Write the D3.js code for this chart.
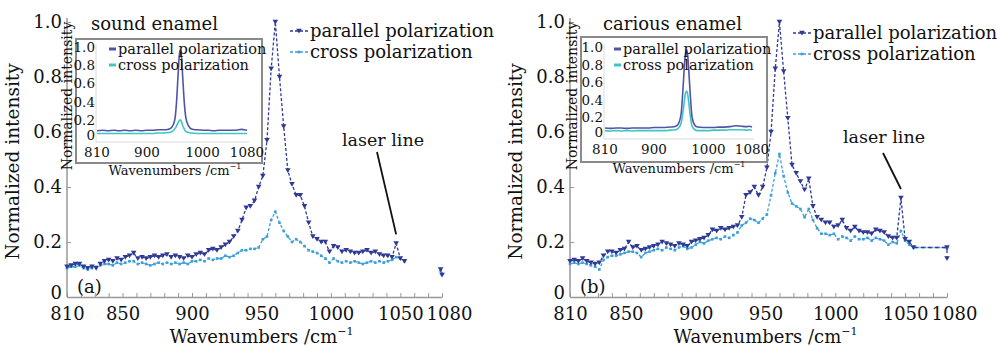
<!DOCTYPE html>
<html>
<head>
<meta charset="utf-8">
<script src="https://cdn.jsdelivr.net/npm/d3@7"></script>
<style>
  body { margin: 0; background: #fff; }
  svg { display: block; }
  text { font-family: "DejaVu Serif", "Liberation Serif", serif; fill: #111; }
</style>
</head>
<body>
<svg id="chart" width="998" height="346"></svg>
<script>
// main spectra, sampled every 3 cm-1
const wavenumbers = [810,813,816,819,822,825,828,831,834,837,840,843,846,849,852,855,858,861,864,867,
  870,873,876,879,882,885,888,891,894,897,900,903,906,909,912,915,918,921,924,927,930,933,936,939,942,945,
  948,951,954,957,960,963,966,969,972,975,978,981,984,987,990,993,996,999,1002,1005,1008,1011,1014,1017,
  1020,1023,1026,1029,1032,1035,1038,1041,1044,1047,1050,1053];

const parallelA = [0.11,0.115,0.12,0.12,0.11,0.105,0.11,0.105,0.12,0.13,0.135,0.13,0.14,0.135,0.145,0.15,0.16,0.14,0.145,0.14,
  0.145,0.15,0.145,0.15,0.155,0.145,0.15,0.145,0.14,0.15,0.145,0.155,0.16,0.155,0.17,0.175,0.17,0.18,0.19,0.2,0.22,0.24,0.28,0.325,0.33,0.35,
  0.4,0.44,0.57,0.83,1.0,0.8,0.62,0.46,0.41,0.37,0.37,0.33,0.27,0.22,0.21,0.2,0.2,0.165,0.185,0.18,0.165,0.17,0.165,0.16,
  0.16,0.165,0.17,0.16,0.165,0.155,0.15,0.15,0.145,0.195,0.14,0.13];
const crossA = [0.105,0.11,0.11,0.115,0.105,0.1,0.105,0.11,0.115,0.12,0.12,0.115,0.125,0.12,0.125,0.13,0.13,0.12,0.125,0.12,
  0.115,0.12,0.125,0.12,0.125,0.12,0.125,0.12,0.125,0.12,0.13,0.13,0.135,0.13,0.14,0.135,0.14,0.14,0.15,0.145,0.15,0.16,0.17,0.17,0.175,0.175,
  0.18,0.21,0.22,0.28,0.31,0.27,0.24,0.22,0.2,0.21,0.2,0.185,0.17,0.165,0.16,0.15,0.14,0.125,0.14,0.13,0.125,0.13,0.125,0.13,
  0.125,0.12,0.125,0.13,0.125,0.13,0.125,0.13,0.135,0.145,0.14,0.13];

const parallelB = [0.13,0.135,0.13,0.14,0.13,0.125,0.12,0.125,0.15,0.165,0.165,0.16,0.17,0.175,0.2,0.18,0.185,0.17,0.175,0.18,
  0.185,0.19,0.2,0.195,0.19,0.185,0.195,0.19,0.185,0.2,0.205,0.21,0.215,0.225,0.245,0.24,0.25,0.245,0.25,0.255,0.26,0.29,0.37,0.38,0.4,0.37,
  0.4,0.47,0.6,0.83,1.0,0.82,0.65,0.48,0.45,0.42,0.39,0.43,0.33,0.29,0.28,0.27,0.27,0.255,0.26,0.28,0.25,0.24,0.255,0.24,
  0.235,0.235,0.23,0.245,0.24,0.235,0.22,0.215,0.215,0.36,0.21,0.2];
const crossB = [0.12,0.125,0.12,0.125,0.12,0.115,0.11,0.1,0.135,0.145,0.15,0.15,0.155,0.16,0.165,0.165,0.16,0.145,0.16,0.165,
  0.17,0.175,0.17,0.18,0.175,0.17,0.18,0.185,0.175,0.18,0.19,0.2,0.195,0.205,0.21,0.215,0.21,0.22,0.215,0.225,0.235,0.26,0.27,0.285,0.28,0.27,
  0.285,0.3,0.37,0.45,0.52,0.44,0.38,0.34,0.33,0.32,0.29,0.32,0.28,0.25,0.23,0.23,0.225,0.23,0.21,0.22,0.215,0.205,0.22,0.21,
  0.21,0.215,0.205,0.215,0.21,0.205,0.19,0.2,0.195,0.24,0.205,0.19];

// short pieces past the cut near 1080 cm-1
const tailWaveA = [1079, 1080];
const tailParallelA = [0.1, 0.08];
const tailCrossA = [0.095, 0.085];
const tailWaveB = [1056, 1080, 1080];
const tailParallelB = [0.18, 0.18, 0.14];
const tailCrossB = [0.18, 0.18, 0.18];

// inset spectra
const insetWave = [810,820,830,840,850,860,870,880,890,900,910,920,930,940,945,950,953,956,958,
  960,962,964,967,970,975,980,990,1000,1010,1020,1030,1040,1050,1060,1070,1075,1080];
const insetParallelA = [0.08,0.085,0.08,0.085,0.08,0.085,0.08,0.085,0.08,0.085,0.085,0.09,0.09,0.1,0.12,0.2,0.38,0.7,0.9,
  0.97,0.9,0.7,0.4,0.22,0.13,0.1,0.09,0.085,0.085,0.08,0.085,0.085,0.085,0.085,0.095,0.09,0.085];
const insetCrossA = [0.05,0.05,0.05,0.05,0.05,0.05,0.05,0.05,0.05,0.05,0.05,0.055,0.055,0.06,0.07,0.1,0.13,0.17,0.19,
  0.2,0.18,0.14,0.1,0.07,0.06,0.055,0.05,0.05,0.05,0.05,0.05,0.05,0.05,0.05,0.05,0.05,0.05];
const insetParallelB = [0.08,0.075,0.08,0.08,0.075,0.08,0.08,0.08,0.08,0.085,0.085,0.085,0.09,0.1,0.13,0.25,0.5,0.8,0.93,
  0.97,0.9,0.72,0.42,0.2,0.11,0.09,0.085,0.085,0.085,0.09,0.09,0.095,0.105,0.1,0.095,0.1,0.09];
const insetCrossB = [0.05,0.045,0.05,0.045,0.05,0.045,0.05,0.05,0.05,0.05,0.05,0.05,0.055,0.06,0.08,0.14,0.25,0.4,0.48,
  0.5,0.46,0.36,0.2,0.1,0.06,0.05,0.05,0.05,0.055,0.055,0.055,0.06,0.06,0.06,0.055,0.06,0.055];

const xTickLabels = [810, 850, 900, 950, 1000, 1050, 1080];
const yTickLabels = [0, 0.2, 0.4, 0.6, 0.8, 1.0];
const insetXTicks = [810, 900, 1000, 1080];
const insetYTicks = [0, 0.2, 0.4, 0.6, 0.8, 1.0];

const colParallel = "#2e3a94", colCross = "#3b9fd8";
const colInsetParallel = "#4f55a6", colInsetCross = "#3ec6c4";

const svg = d3.select("#chart");

const panels = [
  { left: 67, right: 442, top: 22, bottom: 297, tag: "(a)", title: "sound enamel", titleX: 91,
    par: parallelA, cro: crossA, tw: tailWaveA, tp: tailParallelA, tc: tailCrossA, laser: 1047,
    laserText: [383, 146], laserFrom: [377, 152], legX: 290, legY: 31,
    inset: { box: [76, 39, 262, 163], l: 97, r: 247, t: 47, b: 138, ylabX: 67, xlabX: 175, xlabY: 174,
      par: insetParallelA, cro: insetCrossA } },
  { left: 570, right: 947, top: 22, bottom: 297, tag: "(b)", title: "carious enamel", titleX: 603,
    par: parallelB, cro: crossB, tw: tailWaveB, tp: tailParallelB, tc: tailCrossB, laser: 1047,
    laserText: [884, 143], laserFrom: [883, 153], legX: 793, legY: 33,
    inset: { box: [581, 37, 767, 162], l: 605, r: 752, t: 47, b: 135, ylabX: 572, xlabX: 679, xlabY: 172,
      par: insetParallelB, cro: insetCrossB } }
];

function tri(g, cx, cy, s, col) {
  g.append("path")
    .attr("d", `M${cx - s},${cy - s * 0.8}L${cx + s},${cy - s * 0.8}L${cx},${cy + s * 0.9}Z`)
    .attr("fill", col);
}

panels.forEach(p => {
  const g = svg.append("g");
  const x = d3.scaleLinear().domain([810, 1080]).range([p.left, p.right]);
  const y = d3.scaleLinear().domain([0, 1]).range([p.bottom, p.top]);

  // axes, ticks pointing inward
  const xAxis = d3.axisBottom(x)
    .tickValues(d3.range(810, 1081, 10))
    .tickSizeInner(-4).tickSizeOuter(0).tickPadding(10)
    .tickFormat(d => xTickLabels.includes(d) ? d : "");
  const gx = g.append("g").attr("transform", `translate(0,${p.bottom})`).call(xAxis);
  const yAxis = d3.axisLeft(y)
    .tickValues(yTickLabels)
    .tickSizeInner(-4).tickSizeOuter(0).tickPadding(5)
    .tickFormat(d => d === 0 ? "0" : d.toFixed(1));
  const gy = g.append("g").attr("transform", `translate(${p.left},0)`).call(yAxis);
  [gx, gy].forEach(a => {
    a.select(".domain").attr("stroke", "#999").attr("stroke-width", 1.5);
    a.selectAll(".tick line").attr("stroke", "#999");
    a.selectAll(".tick text").attr("font-size", 18).attr("fill", "#111")
      .style("font-family", '"DejaVu Serif", serif');
  });
  gx.selectAll(".tick text").filter(d => d === 1080).attr("dx", 7);
  gy.selectAll(".tick text").filter(d => d === 0).attr("dy", "0.1em");
  gy.select(".domain").attr("d", `M0,${p.bottom}V${p.top - 4}`);

  // axis titles
  const xt = g.append("text").attr("x", (p.left + p.right) / 2 + 7).attr("y", 343)
    .attr("text-anchor", "middle").attr("font-size", 18).text("Wavenumbers /cm");
  xt.append("tspan").attr("dy", -8).attr("font-size", 11).text("−1");
  g.append("text").attr("transform", `translate(${p.left - 48},${(p.top + p.bottom) / 2 + 2}) rotate(-90)`)
    .attr("text-anchor", "middle").attr("font-size", 18.5).text("Normalized intensity");

  // series
  const line = d3.line().x(d => x(d[0])).y(d => y(d[1]));
  const parPts = wavenumbers.map((w, i) => [w, p.par[i]]);
  const croPts = wavenumbers.map((w, i) => [w, p.cro[i]]);
  const tailPar = p.tw.map((w, i) => [w, p.tp[i]]);
  const tailCro = p.tw.map((w, i) => [w, p.tc[i]]);

  [[croPts, tailCro, colCross], [parPts, tailPar, colParallel]].forEach(([pts, tail, col]) => {
    g.append("path").datum(pts).attr("d", line).attr("fill", "none")
      .attr("stroke", col).attr("stroke-width", 1.3).attr("stroke-dasharray", "3,2");
    const tl = (p.tw[0] < 1070) ? [pts[pts.length - 1]].concat(tail) : tail;
    g.append("path").datum(tl).attr("d", line).attr("fill", "none")
      .attr("stroke", col).attr("stroke-width", 1.3).attr("stroke-dasharray", "4,3");
  });
  croPts.concat(tailCro).forEach(d => {
    g.append("rect").attr("x", x(d[0]) - 1.3).attr("y", y(d[1]) - 1.3)
      .attr("width", 2.6).attr("height", 2.6).attr("fill", colCross);
  });
  parPts.concat(tailPar).forEach(d => tri(g, x(d[0]), y(d[1]), 2.8, colParallel));

  // labels
  g.append("text").attr("x", p.titleX).attr("y", 30).attr("font-size", 18).text(p.title);
  g.append("text").attr("x", p.left + 10).attr("y", 293).attr("font-size", 18).text(p.tag);

  // legend
  [["parallel polarization", colParallel, 0], ["cross polarization", colCross, 21]].forEach(([t, col, dy], k) => {
    const ly = p.legY + dy;
    g.append("line").attr("x1", p.legX).attr("x2", p.legX + 18).attr("y1", ly).attr("y2", ly)
      .attr("stroke", col).attr("stroke-width", 1.3).attr("stroke-dasharray", "3,2");
    if (k === 0) tri(g, p.legX + 9, ly, 2.8, col);
    else g.append("rect").attr("x", p.legX + 7.7).attr("y", ly - 1.3).attr("width", 2.6).attr("height", 2.6).attr("fill", col);
    g.append("text").attr("x", p.legX + 20).attr("y", ly + 6).attr("font-size", 18).text(t);
  });

  // laser line annotation
  const lx = x(p.laser), ly = y(p.par[wavenumbers.indexOf(p.laser)]) - 9;
  g.append("line").attr("x1", p.laserFrom[0]).attr("y1", p.laserFrom[1]).attr("x2", lx).attr("y2", ly)
    .attr("stroke", "#111").attr("stroke-width", 1.8);
  g.append("text").attr("x", p.laserText[0]).attr("y", p.laserText[1]).attr("text-anchor", "middle")
    .attr("font-size", 17.5).text("laser line");

  // inset
  const ins = p.inset;
  const ig = g.append("g");
  ig.append("rect").attr("x", ins.box[0]).attr("y", ins.box[1])
    .attr("width", ins.box[2] - ins.box[0]).attr("height", ins.box[3] - ins.box[1])
    .attr("fill", "#fff").attr("stroke", "#8a8a8a").attr("stroke-width", 2);
  const ix = d3.scaleLinear().domain([810, 1080]).range([ins.l, ins.r]);
  const iy = d3.scaleLinear().domain([0, 1]).range([ins.b, ins.t]);
  ig.append("path").attr("d", `M${ins.l - 1},${ins.t - 3}V${ins.b + 4}H${ins.r + 2}`)
    .attr("fill", "none").attr("stroke", "#dadada").attr("stroke-width", 1);
  insetXTicks.forEach(v => {
    ig.append("text").attr("x", ix(v)).attr("y", ins.b + 19).attr("text-anchor", "middle")
      .attr("font-size", 13.5).text(v);
  });
  insetYTicks.forEach(v => {
    ig.append("text").attr("x", ins.l - 2).attr("y", iy(v) + (v === 0 ? 2 : 5)).attr("text-anchor", "end")
      .attr("font-size", 13.5).text(v === 0 ? "0" : v.toFixed(1));
  });
  const ixt = ig.append("text").attr("x", ins.xlabX).attr("y", ins.xlabY + 1)
    .attr("text-anchor", "middle").attr("font-size", 13).text("Wavenumbers /cm");
  ixt.append("tspan").attr("dy", -6).attr("font-size", 8).text("−1");
  ig.append("text").attr("transform", `translate(${ins.ylabX + 5},96) rotate(-90)`)
    .attr("text-anchor", "middle").attr("font-size", 14).text("Normalized intensity");

  const iline = d3.line().x(d => ix(d[0])).y(d => iy(d[1])).curve(d3.curveMonotoneX);
  [[ins.cro, colInsetCross], [ins.par, colInsetParallel]].forEach(([vals, col]) => {
    ig.append("path").datum(insetWave.map((w, i) => [w, vals[i]])).attr("d", iline)
      .attr("fill", "none").attr("stroke", col).attr("stroke-width", 1.6);
  });
  [["parallel polarization", colInsetParallel, 49], ["cross polarization", colInsetCross, 65]].forEach(([t, col, yy]) => {
    ig.append("line").attr("x1", ins.box[0] + 33).attr("x2", ins.box[0] + 40).attr("y1", yy).attr("y2", yy)
      .attr("stroke", col).attr("stroke-width", 3);
    ig.append("text").attr("x", ins.box[0] + 42).attr("y", yy + 5).attr("font-size", 14.5).text(t);
  });
});
</script>
</body>
</html>
